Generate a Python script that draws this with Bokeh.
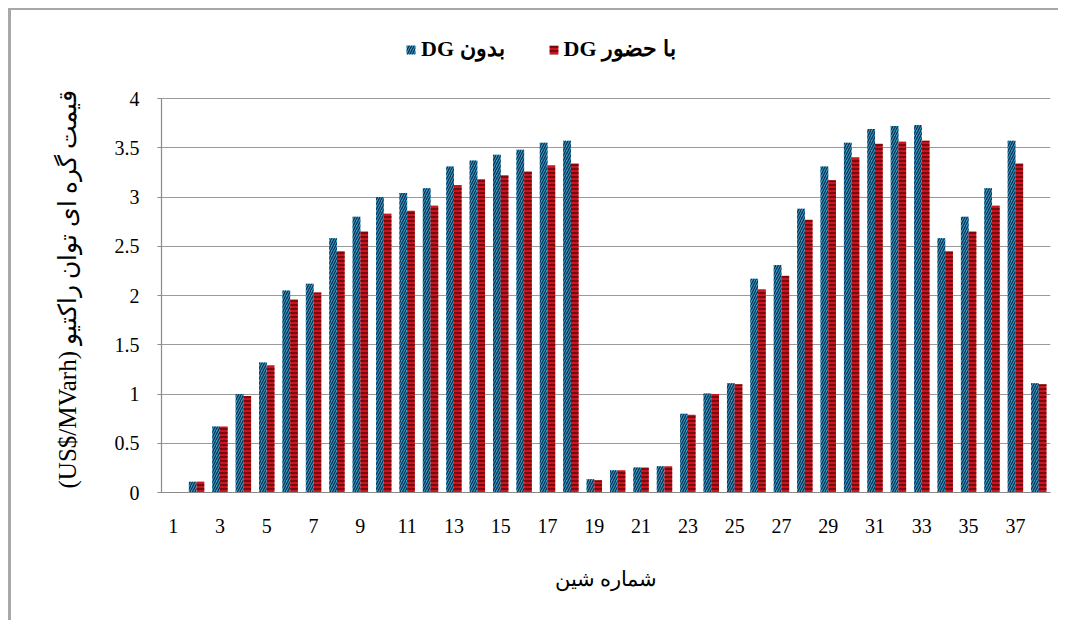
from bokeh.plotting import figure
from bokeh.models import (ColumnDataSource, FixedTicker, Legend, LegendItem, Range1d, Title)
from bokeh.transform import dodge
from bokeh.embed import file_html
from bokeh.resources import INLINE

buses = list(range(1, 39))
without_dg = [0.0, 0.11, 0.67, 1.00, 1.32, 2.05, 2.12, 2.58, 2.80, 3.00,
              3.04, 3.09, 3.31, 3.37, 3.43, 3.48, 3.55, 3.57, 0.135, 0.227,
              0.254, 0.267, 0.80, 1.005, 1.11, 2.17, 2.31, 2.88, 3.31, 3.55,
              3.69, 3.72, 3.73, 2.58, 2.80, 3.09, 3.57, 1.11]
with_dg = [0.0, 0.11, 0.67, 0.98, 1.29, 1.96, 2.03, 2.45, 2.65, 2.83,
           2.86, 2.91, 3.12, 3.18, 3.22, 3.26, 3.32, 3.34, 0.125, 0.227,
           0.254, 0.267, 0.79, 1.00, 1.10, 2.06, 2.20, 2.77, 3.17, 3.40,
           3.54, 3.56, 3.57, 2.45, 2.65, 2.91, 3.34, 1.10]
x_ticks = list(range(1, 38, 2))
y_ticks = [0, 0.5, 1, 1.5, 2, 2.5, 3, 3.5, 4]
label_without = "DG بدون"
label_with = "DG با حضور"
x_title = "شماره شین"
y_title = "(US$/MVarh) قیمت گره ای توان راکتیو"

src = ColumnDataSource(dict(bus=buses, a=without_dg, b=with_dg))

FONT = "Liberation Serif"

# frame extends above the value 4 to leave room for the legend inside it
FRAME_H = 464
AXIS_H = 394
y_top = y_ticks[-1] * FRAME_H / AXIS_H

p = figure(width=1050, height=612, output_backend="svg", toolbar_location=None,
           x_range=Range1d(0.5, 38.5), y_range=Range1d(0, y_top),
           min_border_left=150, min_border_right=11, min_border_top=18,
           min_border_bottom=130,
           styles={"margin-top": "8px", "margin-left": "8px",
                   "border-top": "2px solid #a8a8a8", "border-left": "3px solid #a8a8a8"})
p.outline_line_color = None
p.background_fill_color = "white"
p.border_fill_color = "white"

r1 = p.vbar(x=dodge("bus", -0.165, range=p.x_range), top="a", width=0.33, source=src,
            fill_color="#2f9fd0", line_color=None,
            hatch_pattern="/", hatch_color="#12304a", hatch_scale=5, hatch_weight=1.3)
r2 = p.vbar(x=dodge("bus", 0.165, range=p.x_range), top="b", width=0.33, source=src,
            fill_color="#cc141e", line_color=None,
            hatch_pattern="-", hatch_color="#3a0606", hatch_scale=4, hatch_weight=1.2)

p.xgrid.grid_line_color = None
p.ygrid.grid_line_color = "#9a9a9a"
p.ygrid.grid_line_width = 1.2
p.ygrid.ticker = FixedTicker(ticks=y_ticks)

p.xaxis.ticker = FixedTicker(ticks=x_ticks)
p.yaxis.ticker = FixedTicker(ticks=y_ticks)
p.yaxis.major_label_overrides = {t: f"{t:g}" for t in y_ticks}
p.yaxis.bounds = (y_ticks[0], y_ticks[-1])

for ax in (p.xaxis[0], p.yaxis[0]):
    ax.axis_line_color = "#8a8a8a"
    ax.axis_line_width = 1.2
    ax.major_tick_line_color = None
    ax.minor_tick_line_color = None
    ax.major_label_text_font = FONT
    ax.major_label_text_font_size = "20px"
    ax.major_label_text_color = "black"
    ax.axis_label_text_font = FONT
    ax.axis_label_text_font_style = "normal"
    ax.axis_label_text_color = "black"

p.yaxis.major_tick_line_color = "#8a8a8a"
p.yaxis.major_tick_out = 4
p.yaxis.major_tick_in = 0
p.yaxis.major_label_standoff = 18

# y-axis title, anchored at the bottom of the frame so that it sits beside 0..4
ytitle = Title(text=y_title, align="left", offset=4, standoff=61,
               text_font=FONT, text_font_size="25px", text_font_style="normal",
               text_color="black")
p.add_layout(ytitle, "left")

p.xaxis.major_label_standoff = 20
p.xaxis.axis_label = x_title
p.xaxis.axis_label_text_font_size = "21px"
p.xaxis.axis_label_standoff = 31

legend = Legend(items=[LegendItem(label=label_without, renderers=[r1]),
                       LegendItem(label=label_with, renderers=[r2])],
                orientation="horizontal", location=(244, FRAME_H - 34),
                padding=0, margin=0, spacing=43, label_standoff=5,
                glyph_width=11, glyph_height=11,
                label_text_font=FONT, label_text_font_size="22px",
                label_text_font_style="bold", label_text_color="black",
                border_line_color=None, background_fill_alpha=0)
p.add_layout(legend)

open("out.html", "w").write(file_html(p, INLINE))
